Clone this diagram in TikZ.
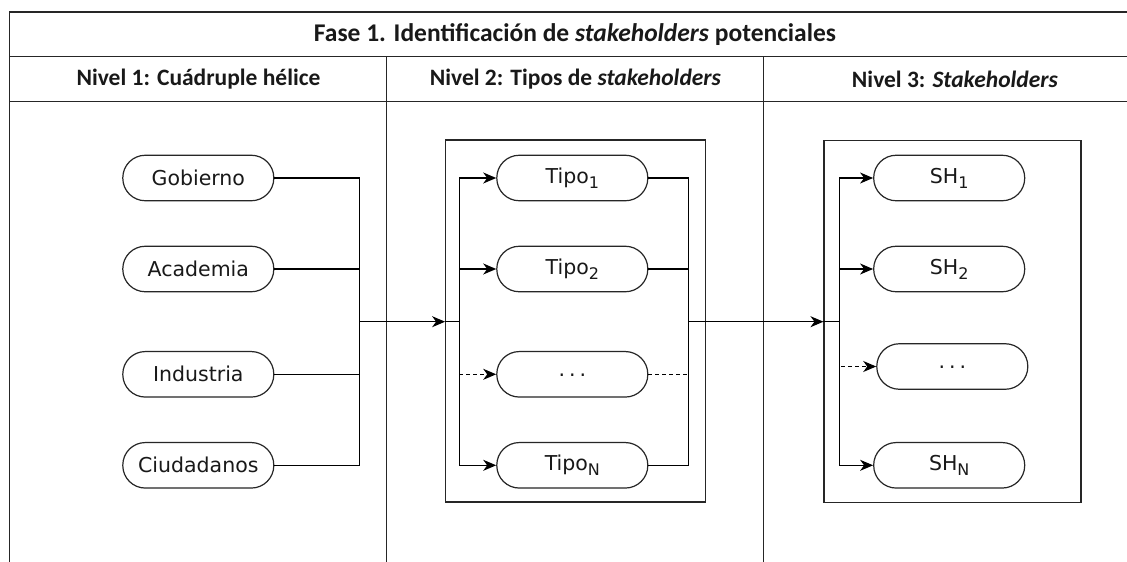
\documentclass[tikz,border=0pt]{standalone}
\usepackage{fontspec}
\setmainfont{Carlito}
\newfontfamily\pillfont{DejaVu Sans}
\usetikzlibrary{arrows.meta}
\newcommand{\mysub}[1]{\raisebox{-5pt}{\fontsize{16}{18}\selectfont #1}}
\begin{document}
\begin{tikzpicture}[x=1pt,y=-1pt,
  frame/.style={line width=1.2pt,draw=black!85},
  hdr/.style={font=\bfseries\fontsize{23.5}{26}\selectfont,text=black!90,inner sep=0pt},
  ttl/.style={font=\bfseries\fontsize{25.5}{28}\selectfont,text=black!90,inner sep=0pt},
  pill/.style={draw=black!85,line width=1.2pt,rounded corners=22.5pt,minimum width=151pt,minimum height=45.5pt,inner sep=0pt,font=\pillfont\fontsize{20.5}{22}\selectfont,text=black!90},
  grp/.style={draw=black!85,line width=1.1pt},
  conn/.style={line width=1.2pt,draw=black},
  arr/.style={conn,-{Stealth[length=13pt,width=11pt,inset=4pt]}},
  darr/.style={arr,dashed,dash pattern=on 4pt off 3pt},
  dline/.style={conn,dashed,dash pattern=on 4pt off 3pt}]
\useasboundingbox (0,0) rectangle (1127,562);
\fill[white] (0,0) rectangle (1127,562);
% table frame (right edge lies beyond the picture)
\draw[frame] (9.5,570) -- (9.5,12) -- (1135,12);
\draw[frame] (9.5,56.7) -- (1135,56.7);
\draw[frame] (9.5,101.7) -- (1135,101.7);
\draw[frame] (386.7,56.7) -- (386.7,570);
\draw[frame] (763.3,56.7) -- (763.3,570);
% headers
\node[ttl] (title) at (575,34.5) {Fase 1. Identificación de \textit{stakeholders} potenciales};
\node[hdr] (h1) at (198.5,79.5) {Nivel 1: Cuádruple hélice};
\node[hdr] (h2) at (575.5,79.5) {Nivel 2: Tipos de \textit{stakeholders}};
\node[hdr] (h3) at (955,79.5) {Nivel 3: \textit{Stakeholders}};
% group boxes
\node[grp,minimum width=259.5pt,minimum height=362pt,inner sep=0pt] (box2) at (575.4,321) {};
\node[grp,minimum width=257pt,minimum height=362.5pt,inner sep=0pt] (box3) at (952.5,321.3) {};
% column 1
\node[pill] (gob) at (198.3,178) {Gobierno};
\node[pill] (aca) at (198.3,269) {Academia};
\node[pill] (ind) at (198.3,374.3) {Industria};
\node[pill] (ciu) at (198.3,465.3) {Ciudadanos};
% column 2
\node[pill] (t1) at (572.3,178) {Tipo\mysub{1}};
\node[pill] (t2) at (572.3,269) {Tipo\mysub{2}};
\node[pill] (td) at (572.3,374.3) {\raisebox{-4pt}{.\hspace{4pt}.\hspace{4pt}.}};
\node[pill] (tn) at (572.3,465.3) {Tipo\mysub{N}};
% column 3
\node[pill] (s1) at (949.2,178) {SH\mysub{1}};
\node[pill] (s2) at (949.2,269) {SH\mysub{2}};
\node[pill] (sd) at (952.3,366.5) {\raisebox{-4pt}{.\hspace{4pt}.\hspace{4pt}.}};
\node[pill] (sn) at (949.2,465.3) {SH\mysub{N}};
% bus coordinates
\coordinate (b1) at (359.3,321.7);
\coordinate (b2l) at (459.3,321.7);
\coordinate (b2r) at (688.3,321.7);
\coordinate (b3) at (839.3,321.7);
\coordinate (e2) at (box2.west |- b1);
\coordinate (e3) at (box3.west |- b1);
% column 1 connectors
\draw[conn] (gob.east) -| (b1);
\draw[conn] (aca.east) -| (b1);
\draw[conn] (ind.east) -| (b1);
\draw[conn] (ciu.east) -| (b1);
\draw[arr] (b1) -- (e2);
\draw[conn] (e2) -- (b2l);
% column 2 connectors
\draw[arr] (b2l) |- (t1.west);
\draw[arr] (b2l) |- (t2.west);
\draw[arr] (b2l) |- (tn.west);
\draw[darr] (b2l |- td.west) -- (td.west);
\draw[conn] (t1.east) -| (b2r);
\draw[conn] (t2.east) -| (b2r);
\draw[conn] (tn.east) -| (b2r);
\draw[dline] (td.east) -- (b2r |- td.east);
\draw[arr] (b2r) -- (e3);
\draw[conn] (e3) -- (b3);
% column 3 connectors
\draw[arr] (b3) |- (s1.west);
\draw[arr] (b3) |- (s2.west);
\draw[arr] (b3) |- (sn.west);
\draw[darr] ([xshift=2pt]b3 |- sd.west) -- (sd.west);
\end{tikzpicture}
\end{document}
